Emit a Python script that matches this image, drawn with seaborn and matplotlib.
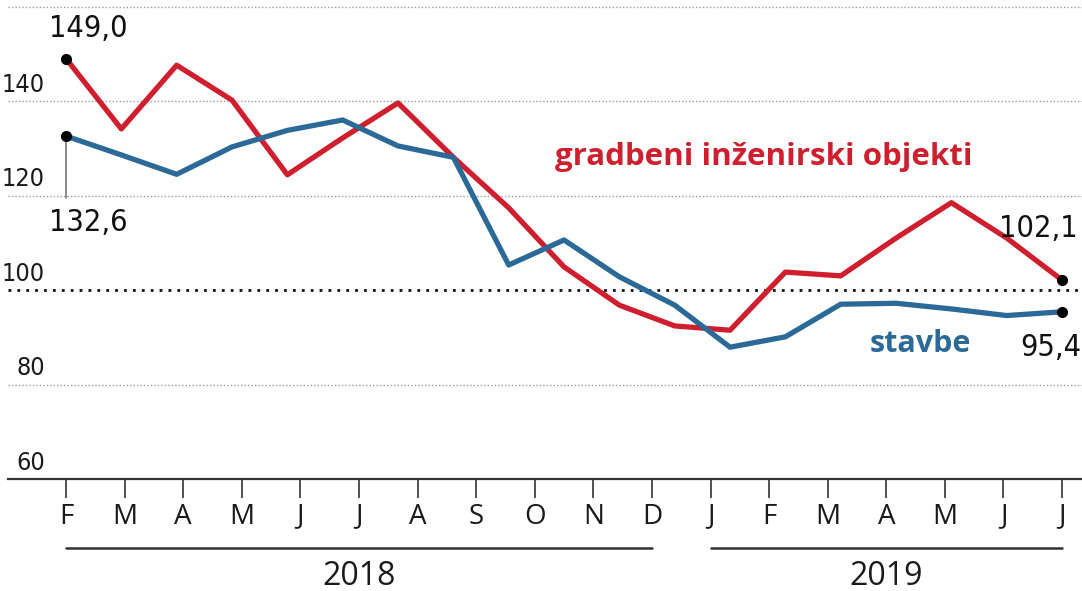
import numpy as np
import pandas as pd
import matplotlib
matplotlib.use("Agg")
import matplotlib.pyplot as plt
import matplotlib.transforms as mtrans
import seaborn as sns

# values (19 monthly points, evenly spread under 18 month ticks)
civil = [149.0, 134.1, 147.6, 140.2, 124.4, 132.2, 139.6, 128.1, 117.4, 104.9,
         96.8, 92.4, 91.5, 103.8, 103.0, 111.0, 118.5, 111.0, 102.1]
buildings = [132.6, 128.6, 124.5, 130.3, 133.8, 136.0, 130.5, 128.1, 105.3, 110.6,
             102.8, 96.8, 87.9, 90.1, 97.0, 97.2, 96.0, 94.6, 95.4]
months = ['F', 'M', 'A', 'M', 'J', 'J', 'A', 'S', 'O', 'N', 'D',
          'J', 'F', 'M', 'A', 'M', 'J', 'J']
years = ['2018', '2019']
year_spans = [(0, 10), (11, 17)]  # month tick index ranges for each year
yticks = [60, 80, 100, 120, 140]
grid_lines = [80, 120, 140, 160]

red = '#cf1f2e'
blue = '#2b6a98'
num_font = ['DejaVu Sans']
txt_font = ['Open Sans', 'DejaVu Sans']

sns.set_theme(style='white')
plt.rcParams['font.family'] = txt_font

n = len(civil)
df = pd.DataFrame({
    'idx': list(range(n)) * 2,
    'value': civil + buildings,
    'serija': ['gradbeni'] * n + ['stavbe'] * n,
})

fig = plt.figure(figsize=(10.82, 5.91), dpi=100)
ax = fig.add_axes([8 / 1082, 112 / 591, 1074 / 1082, 479 / 591])

for g in grid_lines:
    ax.axhline(g, color='#9a9a9a', lw=1.0, ls=(0, (1, 1.5)), zorder=1)
ax.axhline(100, color='#111111', lw=2.0, ls=(0, (1, 2.2)), zorder=1)

sns.lineplot(data=df, x='idx', y='value', hue='serija',
             palette={'gradbeni': red, 'stavbe': blue},
             lw=3.8, legend=False, ax=ax, zorder=3)

ax.set_xlim(-1.048, n - 1 + 0.36)
ax.set_ylim(60, 161.4)

# month ticks spread over the same span as the data
tick_pos = np.linspace(0, n - 1, len(months))
ax.set_xticks(tick_pos)
ax.set_xticklabels(months, fontsize=20, color='#1a1a1a', family=txt_font)
ax.tick_params(axis='x', direction='out', length=14, width=1.2, color='#333333',
               pad=3, bottom=True)
ax.set_yticks([])
ax.set_xlabel('')
ax.set_ylabel('')
for s in ['top', 'right', 'left']:
    ax.spines[s].set_visible(False)
ax.spines['bottom'].set_color('#333333')
ax.spines['bottom'].set_linewidth(1.6)

# y labels above their lines
ytr = mtrans.blended_transform_factory(ax.transAxes, ax.transData)
for v in yticks:
    ax.text(0.0345, v + 0.9, str(v), transform=ytr, ha='right', va='bottom',
            fontsize=18, color='#1a1a1a', family=num_font, fontstretch='condensed')

# year brackets
xtr = mtrans.blended_transform_factory(ax.transData, ax.transAxes)
for yr, (a, b) in zip(years, year_spans):
    ax.plot([tick_pos[a], tick_pos[b]], [-0.145, -0.145], transform=xtr,
            color='#333333', lw=1.8, clip_on=False)
    ax.text((tick_pos[a] + tick_pos[b]) / 2, -0.203, yr, transform=xtr,
            ha='center', va='center', fontsize=23, color='#1a1a1a', family=txt_font)

# end points
for arr in (civil, buildings):
    ax.plot([0, n - 1], [arr[0], arr[-1]], 'o', color='black', ms=7, zorder=4)

ax.plot([0, 0], [buildings[0], 119.5], color='#777777', lw=1.2, zorder=2)
ax.text(-0.3, civil[0] + 3.2, '149,0', ha='left', va='bottom', fontsize=22,
        color='#111111', family=num_font, fontstretch='condensed')
ax.text(-0.3, 117.4, '132,6', ha='left', va='top', fontsize=22,
        color='#111111', family=num_font, fontstretch='condensed')
ax.text(n - 0.72, civil[-1] + 11, '102,1', ha='right', va='center', fontsize=22,
        color='#111111', family=num_font, fontstretch='condensed')
ax.text(n - 0.65, buildings[-1] - 7.6, '95,4', ha='right', va='center', fontsize=22,
        color='#111111', family=num_font, fontstretch='condensed')

ax.text(8.84, 128.2, 'gradbeni inženirski objekti', ha='left', va='center',
        fontsize=22.5, fontweight='bold', color=red, family=txt_font)
ax.text(14.53, 88.6, 'stavbe', ha='left', va='center',
        fontsize=22, fontweight='bold', color=blue, family=txt_font)

fig.savefig('out.png', dpi=100)
